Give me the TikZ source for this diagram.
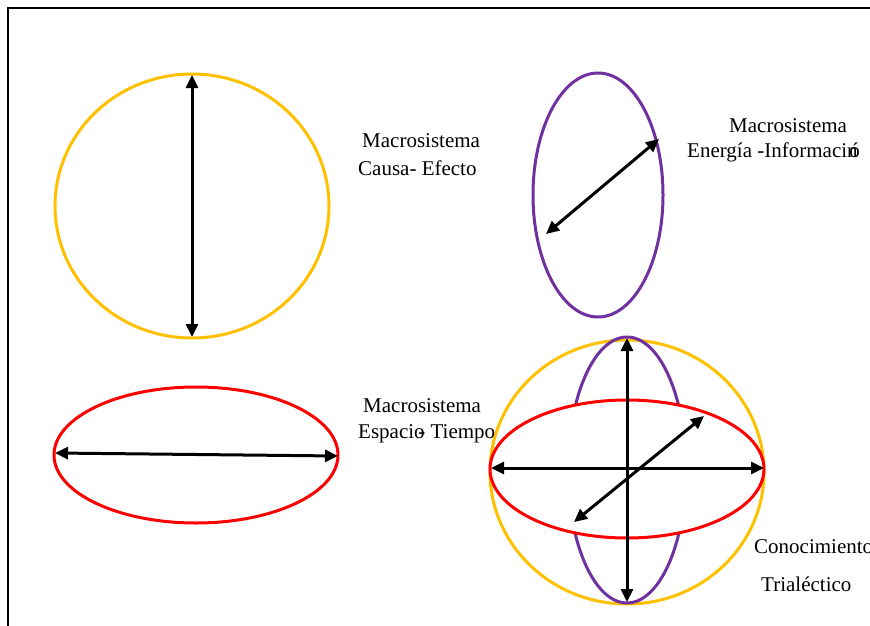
\documentclass[tikz,border=0pt]{standalone}
\usepackage{fontspec}
\setmainfont{Liberation Serif}
\usetikzlibrary{arrows.meta}
\definecolor{cyell}{RGB}{255,192,0}
\definecolor{cpurp}{RGB}{112,48,160}
\definecolor{cred}{RGB}{255,0,0}
\tikzset{
  shapeline/.style={line width=3pt},
  dbl/.style={line width=3pt,{Triangle[length=13pt,width=12pt]}-{Triangle[length=13pt,width=12pt]}},
  lbl/.style={anchor=base west,inner sep=0pt,font=\fontsize{21}{25}\selectfont},
  frame/.style={line width=1.5pt}
}
\begin{document}
\begin{tikzpicture}[x=1pt,y=-1pt]
\useasboundingbox (0,0) rectangle (870,626);
% frame
\coordinate (ftr) at (870,8);
\coordinate (ftl) at (8,8);
\coordinate (fbl) at (8,626);
\draw[frame] (ftr) -- (ftl) -- (fbl);

% Causa-Efecto
\draw[shapeline,cyell] (192,206) ellipse [x radius=137,y radius=132];
\coordinate (ce1) at (192,75);
\coordinate (ce2) at (192,337);
\draw[dbl] (ce1) -- (ce2);

% Energia-Informacion
\draw[shapeline,cpurp] (598,195) ellipse [x radius=65,y radius=122];
\coordinate (ei1) at (546,234);
\coordinate (ei2) at (659,139);
\draw[dbl] (ei1) -- (ei2);

% Espacio-Tiempo
\draw[shapeline,cred] (196,455) ellipse [x radius=142,y radius=68];
\coordinate (et1) at (55,453);
\coordinate (et2) at (338,456);
\draw[dbl] (et1) -- (et2);

% combined
\draw[shapeline,cyell] (627,472) ellipse [x radius=137,y radius=132];
\draw[shapeline,cpurp] (627,470) ellipse [x radius=59,y radius=133];
\draw[shapeline,cred,fill=white] (627,469) ellipse [x radius=137,y radius=69];
\coordinate (cv1) at (627,338);
\coordinate (cv2) at (627,602);
\coordinate (ch1) at (491,468);
\coordinate (ch2) at (764,468);
\coordinate (cd1) at (574,522);
\coordinate (cd2) at (704,416);
\draw[dbl] (cv1) -- (cv2);
\draw[dbl] (ch1) -- (ch2);
\draw[dbl] (cd1) -- (cd2);

% labels
\node[lbl] (l1a) at (362,147) {Macrosistema};
\node[lbl] (l1b) at (358,175) {Causa- Efecto};
\node[lbl] (l2a) at (729,132) {Macrosistema};
\node[lbl] (l2b) at (687,157) {Energía -Informaci\rlap{\kern0.1em ó}n};
\node[lbl] (l3a) at (363,412) {Macrosistema};
\node[lbl] (l3b) at (358,438) {Espacio\kern-0.3em- Tiempo};
\node[lbl] (l4a) at (754,553) {Conocimiento};
\node[lbl] (l4b) at (761,591) {Trialéctico};
\end{tikzpicture}
\end{document}
